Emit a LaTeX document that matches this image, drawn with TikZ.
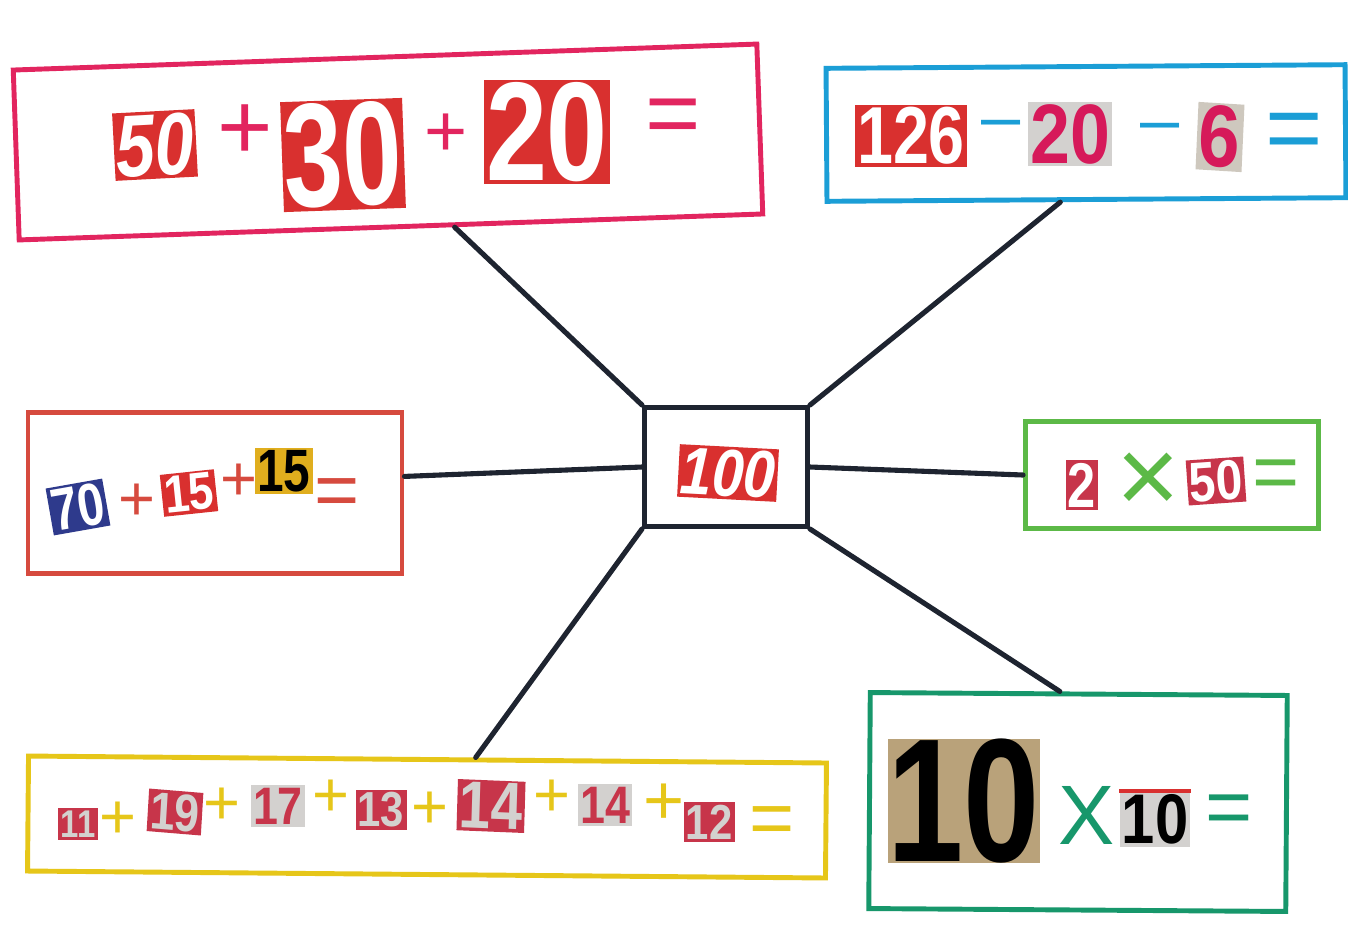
\documentclass[tikz,border=0pt]{standalone}
\usepackage{fontspec}
\setmainfont{Liberation Sans}
\usetikzlibrary{calc}
\definecolor{pinkM}{HTML}{E2255F}
\definecolor{blueM}{HTML}{1B9ED6}
\definecolor{redM}{HTML}{D64A3E}
\definecolor{greenM}{HTML}{5CB947}
\definecolor{yellowM}{HTML}{E6C619}
\definecolor{tealM}{HTML}{17976B}
\definecolor{tileRed}{HTML}{D9302F}
\definecolor{navyT}{HTML}{2E3A8C}
\definecolor{crimsonT}{HTML}{C7354A}
\definecolor{mustardT}{HTML}{E0AE1E}
\definecolor{tanT}{HTML}{B9A27A}
\definecolor{grayT}{HTML}{D3D1CF}
\definecolor{magT}{HTML}{D6195A}
\definecolor{inkC}{HTML}{1E2430}
\tikzset{
  x=0.02cm, y=-0.02cm,
  frame/.style n args={3}{draw=#1, line width=2.8pt, minimum width={#2*0.02cm}, minimum height={#3*0.02cm}, inner sep=0pt},
  tile/.style n args={3}{fill=#1, text=#2, font=\bfseries\fontsize{#3}{#3}\selectfont, inner sep=1.5pt},
  op/.style n args={2}{text=#1, font=\fontsize{#2}{#2}\selectfont, inner sep=0pt},
  conn/.style={draw=inkC, line width=2.9pt, line cap=round}
}
\begin{document}
\begin{tikzpicture}
\useasboundingbox[fill=white] (0,0) rectangle (1348,951);
% boxes
\node[frame={pinkM}{744}{170}, rotate=2] (pink) at (388,142) {};
\node[frame={blueM}{519}{133}, rotate=0.4] (blue) at (1086,133) {};
\node[frame={redM}{374}{161}] (left) at (215,493) {};
\node[frame={greenM}{293}{107}] (green) at (1172,475) {};
\node[frame={yellowM}{798}{115}, rotate=-0.5] (yellow) at (427,817) {};
\node[frame={tealM}{417}{216}, rotate=-0.4] (teal) at (1078,802) {};
\node[frame={inkC}{163}{119}, draw=inkC] (cen) at (726,467) {};
% connectors
\coordinate (pA) at ($(pink.south west)!0.585!(pink.south east)$);
\coordinate (bA) at ($(blue.south west)!0.45!(blue.south east)$);
\coordinate (lA) at ($(left.north east)!0.4!(left.south east)$);
\coordinate (tA) at ($(teal.north west)!0.455!(teal.north east)$);
\coordinate (yA) at ($(yellow.north west)!0.56!(yellow.north east)$);
\draw[conn] (pA) -- (cen.north west);
\draw[conn] (bA) -- (cen.north east);
\draw[conn] (lA) -- (cen.west);
\draw[conn] (cen.east) -- (green.west);
\draw[conn] (cen.south east) -- (tA);
\draw[conn] (cen.south west) -- (yA);
% centre
\node[tile={tileRed}{white}{38}, font=\bfseries\itshape\fontsize{38}{38}\selectfont, rotate=-3, xscale=0.85] (c100) at (728,473) {100};
% pink box
\node[tile={tileRed}{white}{50}, font=\bfseries\itshape\fontsize{50}{50}\selectfont, rotate=3, xscale=0.8] (p50) at (155,145) {50};
\node[op={pinkM}{54}] (pp1) at (245,132) {+};
\node[tile={tileRed}{white}{84}, rotate=2, xscale=0.72] (p30) at (343,155) {30};
\node[op={pinkM}{42}] (pp2) at (446,135) {+};
\node[tile={tileRed}{white}{80}, xscale=0.78] (p20) at (547,132) {20};
\node[op={pinkM}{54}] (peq) at (673,122) {=};
% blue box
\node[tile={tileRed}{white}{46}, xscale=0.8] (b126) at (911,136) {126};
\node[op={blueM}{40}] (bm1) at (1001,130) {–};
\node[tile={grayT}{magT}{48}, xscale=0.85] (b20) at (1070,134) {20};
\node[op={blueM}{40}] (bm2) at (1160,133) {–};
\node[tile={grayT!80!tanT}{magT}{50}, xscale=0.85, rotate=-3] (b6) at (1220,137) {6};
\node[op={blueM}{56}] (beq) at (1294,137) {=};
% left box
\node[tile={navyT}{white}{34}, rotate=10, xscale=0.8] (l70) at (78,507) {70};
\node[op={redM}{36}] (lp1) at (137,502) {+};
\node[tile={tileRed}{white}{30}, rotate=6, xscale=0.85] (l15a) at (189,493) {15};
\node[op={redM}{36}] (lp2) at (239,482) {+};
\node[tile={mustardT}{black}{34}, xscale=0.8] (l15b) at (284,471) {15};
\node[op={redM}{44}] (leq) at (337,498) {=};
% green box
\node[tile={crimsonT}{white}{36}, xscale=0.8] (g2) at (1082,485) {2};
\node[op={greenM}{62}] (gx) at (1148,483) {×};
\node[tile={crimsonT}{white}{32}, rotate=4, xscale=0.85] (g50) at (1216,481) {50};
\node[op={greenM}{46}] (geq) at (1276,480) {=};
% yellow box
\node[tile={crimsonT}{grayT}{22}, xscale=0.85] (y11) at (78,824) {11};
\node[op={yellowM}{36}] (yp1) at (118,820) {+};
\node[tile={crimsonT}{grayT}{30}, xscale=0.85, rotate=-4] (y19) at (175,812) {19};
\node[op={yellowM}{36}] (yp2) at (222,806) {+};
\node[tile={grayT}{crimsonT}{30}, xscale=0.85] (y17) at (278,806) {17};
\node[op={yellowM}{36}] (yp3) at (331,798) {+};
\node[tile={crimsonT}{grayT}{28}, xscale=0.85] (y13) at (381,810) {13};
\node[op={yellowM}{36}] (yp4) at (430,810) {+};
\node[tile={crimsonT}{grayT}{38}, xscale=0.85, rotate=-2] (y14a) at (491,806) {14};
\node[op={yellowM}{36}] (yp5) at (552,798) {+};
\node[tile={grayT}{crimsonT}{30}, xscale=0.85] (y14b) at (605,805) {14};
\node[op={yellowM}{40}] (yp6) at (664,804) {+};
\node[tile={crimsonT}{grayT}{28}, xscale=0.85] (y12) at (709,822) {12};
\node[op={yellowM}{44}] (yeq) at (772,826) {=};
% teal box
\node[tile={tanT}{black}{100}, xscale=0.78, inner sep=0pt] (t10a) at (964,801) {10};
\node[op={tealM}{48}] (tx) at (1087,815) {X};
\node[tile={grayT}{black}{40}, xscale=0.85] (t10b) at (1155,819) {10};
\draw[tileRed, line width=2pt] (t10b.north west) -- (t10b.north east);
\node[op={tealM}{46}] (teq) at (1229,815) {=};
\end{tikzpicture}
\end{document}
